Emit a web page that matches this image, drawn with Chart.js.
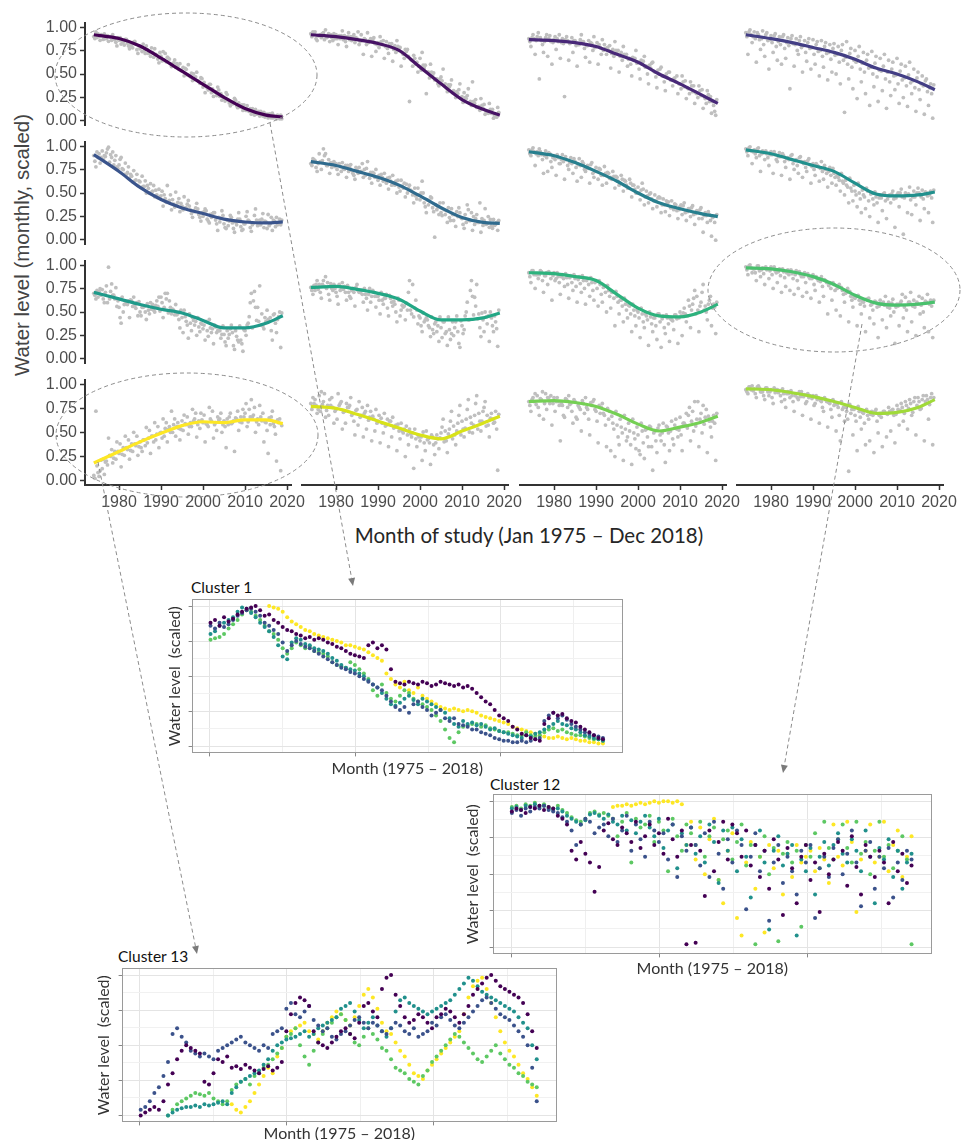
<!DOCTYPE html>
<html>
<head>
<meta charset="utf-8">
<title>Water level clusters</title>
<script src="https://cdn.jsdelivr.net/npm/chart.js@4.4.1/dist/chart.umd.min.js"></script>
<style>
  body { margin: 0; background: #fff; }
  #page { position: relative; width: 961px; height: 1140px; overflow: hidden; background: #fff; }
  #page canvas { position: absolute; }
  .txt { position: absolute; white-space: nowrap; }
  #notes { z-index: 10; pointer-events: none; }
</style>
</head>
<body>
<div id="page">
  <div class="txt" style="left:22px;top:245px;transform:translate(-50%,-50%) rotate(-90deg);font:20.5px 'Liberation Sans',Arial,sans-serif;color:#444">Water level (monthly, scaled)</div>
  <div class="txt" style="left:529px;top:535px;transform:translate(-50%,-50%);font:20.5px Lato,sans-serif;color:#262626">Month of study (Jan 1975 – Dec 2018)</div>
  <div class="txt" style="left:191px;top:587px;transform:translateY(-50%);font:15.5px Lato,sans-serif;color:#111">Cluster 1</div>
  <div class="txt" style="left:490px;top:784px;transform:translateY(-50%);font:15.5px Lato,sans-serif;color:#111">Cluster 12</div>
  <div class="txt" style="left:118px;top:956px;transform:translateY(-50%);font:15.5px Lato,sans-serif;color:#111">Cluster 13</div>
  <canvas id="notes" width="961" height="1140" style="left:0;top:0"></canvas>
</div>
<script>
// ---- smoothed trend per cluster, sampled at these years ----
const lineYears = [1974, 1980, 1985, 1990, 1995, 2000, 2005, 2010, 2015, 2019];
// monthly readings (scaled) thinned to four per year, starting 1974
const firstYear = 1974;

const cl1_line = [.92,.88,.80,.67,.53,.39,.25,.13,.06,.04];
const cl1_a = [.90,.93,.91,.88,.90,.87,.86,.84,.83,.80,.82,.77,.75,.72,.73,.70,.69,.72,.66,.62,.58,.53,.55,.47,.44,.42,.36,.35,.30,.31,.26,.24,.22,.18,.16,.15,.12,.10,.09,.08,.08,.06,.07,.05,.04];
const cl1_b = [.88,.90,.87,.91,.86,.84,.89,.81,.80,.78,.76,.79,.72,.74,.68,.66,.64,.63,.61,.65,.55,.57,.49,.51,.47,.40,.41,.33,.34,.27,.29,.21,.19,.20,.14,.17,.11,.13,.06,.10,.05,.07,.03,.04,.02];
const cl1_c = [.95,.86,.93,.85,.92,.80,.82,.87,.77,.84,.72,.74,.80,.69,.77,.62,.74,.68,.58,.57,.61,.48,.60,.43,.52,.46,.30,.39,.26,.36,.22,.30,.16,.24,.19,.11,.16,.07,.12,.05,.09,.03,.08,.02,.06];
const cl1_d = [.89,.92,.88,.90,.87,.89,.85,.87,.83,.85,.80,.82,.76,.78,.71,.73,.65,.67,.59,.61,.54,.56,.48,.50,.43,.45,.37,.39,.31,.33,.26,.28,.20,.22,.15,.17,.11,.13,.07,.10,.04,.07,.03,.06,.02];

const cl2_line = [.90,.88,.85,.81,.74,.57,.40,.24,.14,.08];
const cl2_a = [.91,.93,.89,.92,.88,.87,.90,.86,.89,.92,.88,.86,.90,.85,.84,.87,.82,.80,.83,.78,.79,.74,.70,.75,.64,.60,.66,.56,.52,.48,.45,.47,.40,.37,.33,.30,.27,.25,.22,.20,.17,.15,.12,.10,.08];
const cl2_b = [.88,.86,.90,.85,.91,.84,.86,.89,.83,.85,.90,.93,.84,.80,.86,.81,.77,.84,.76,.81,.72,.77,.66,.68,.58,.62,.54,.59,.46,.51,.40,.43,.36,.39,.30,.34,.21,.28,.18,.24,.13,.19,.10,.14,.06];
const cl2_c = [.93,.84,.87,.95,.83,.91,.80,.94,.78,.88,.82,.80,.70,.92,.68,.73,.88,.66,.71,.63,.84,.58,.75,.22,.69,.52,.72,.30,.60,.44,.38,.55,.32,.44,.26,.40,.31,.35,.42,.16,.25,.09,.20,.05,.16];
const cl2_d = [.92,.89,.91,.87,.90,.86,.89,.85,.88,.84,.87,.83,.86,.82,.85,.80,.83,.78,.81,.75,.78,.72,.73,.65,.66,.58,.59,.52,.52,.45,.45,.38,.39,.31,.32,.25,.26,.20,.22,.16,.18,.12,.14,.08,.11];

const cl3_line = [.85,.84,.82,.78,.70,.62,.50,.40,.29,.20];
const cl3_a = [.86,.90,.88,.84,.87,.89,.85,.83,.86,.88,.82,.84,.80,.83,.79,.81,.78,.77,.80,.74,.75,.71,.72,.68,.66,.64,.62,.60,.58,.56,.52,.50,.48,.46,.44,.42,.40,.37,.35,.32,.30,.28,.25,.22,.18];
const cl3_b = [.83,.86,.92,.80,.90,.83,.88,.90,.81,.84,.87,.79,.85,.76,.84,.74,.82,.70,.76,.79,.68,.74,.64,.70,.60,.66,.55,.63,.50,.61,.47,.55,.42,.52,.38,.48,.35,.43,.30,.38,.26,.34,.20,.27,.12];
const cl3_c = [.78,.70,.45,.72,.68,.60,.75,.66,.27,.64,.72,.58,.90,.67,.62,.88,.60,.85,.70,.56,.83,.52,.78,.58,.48,.74,.45,.68,.40,.62,.36,.57,.33,.52,.45,.30,.48,.25,.42,.20,.38,.15,.33,.10,.08];
const cl3_d = [.87,.84,.87,.83,.86,.82,.86,.82,.85,.81,.84,.80,.83,.79,.82,.77,.80,.74,.77,.71,.74,.68,.70,.65,.67,.61,.64,.57,.59,.53,.54,.48,.50,.44,.46,.40,.42,.36,.38,.31,.33,.27,.29,.22,.24];

const cl4_line = [.90,.86,.82,.77,.72,.65,.56,.50,.42,.34];
const cl4_a = [.92,.95,.93,.90,.94,.92,.89,.91,.88,.90,.87,.89,.86,.88,.84,.86,.85,.83,.84,.82,.80,.81,.78,.80,.83,.76,.74,.78,.72,.70,.73,.68,.66,.70,.64,.62,.66,.60,.58,.62,.55,.52,.48,.45,.40];
const cl4_b = [.88,.90,.86,.85,.80,.84,.82,.78,.80,.76,.79,.81,.74,.77,.72,.76,.70,.73,.68,.71,.65,.69,.62,.64,.60,.57,.62,.55,.52,.56,.50,.47,.53,.45,.42,.48,.40,.44,.38,.41,.36,.34,.38,.32,.30];
const cl4_c = [.70,.82,.62,.75,.68,.55,.72,.64,.60,.66,.35,.58,.70,.52,.63,.55,.60,.48,.57,.44,.52,.50,.40,.11,.45,.35,.25,.42,.30,.18,.37,.22,.33,.15,.28,.34,.20,.26,.17,.30,.12,.24,.09,.18,.05];
const cl4_d = [.93,.88,.92,.86,.90,.85,.89,.83,.88,.82,.86,.80,.84,.79,.82,.77,.80,.74,.78,.72,.76,.70,.74,.67,.71,.64,.68,.61,.64,.57,.61,.54,.58,.52,.55,.49,.53,.46,.49,.43,.46,.40,.43,.36,.39];

const cl5_line = [.91,.73,.56,.43,.34,.28,.22,.19,.18,.19];
const cl5_a = [.90,.88,.95,.93,.91,.85,.80,.75,.72,.68,.64,.62,.57,.55,.52,.48,.47,.44,.42,.38,.40,.36,.34,.32,.30,.27,.25,.22,.24,.21,.19,.17,.15,.18,.16,.14,.17,.20,.18,.15,.22,.19,.17,.20,.18];
const cl5_b = [.84,.92,.86,.97,.88,.90,.86,.70,.78,.62,.70,.56,.63,.50,.58,.45,.52,.40,.48,.35,.44,.32,.38,.28,.34,.24,.30,.20,.28,.17,.23,.13,.20,.12,.22,.10,.25,.13,.26,.16,.28,.12,.24,.14,.22];
const cl5_c = [.78,.82,.90,.99,.94,.78,.88,.82,.66,.74,.58,.68,.50,.60,.46,.54,.36,.58,.32,.51,.30,.46,.42,.24,.39,.20,.33,.18,.29,.10,.31,.12,.26,.08,.29,.11,.30,.09,.33,.21,.13,.27,.10,.24,.16];
const cl5_d = [.94,.88,.89,.83,.80,.76,.76,.70,.70,.63,.63,.57,.58,.51,.53,.46,.48,.41,.43,.37,.39,.34,.36,.31,.33,.29,.31,.27,.29,.24,.26,.21,.24,.19,.22,.17,.21,.16,.21,.16,.20,.15,.21,.16,.21];

const cl6_line = [.82,.78,.72,.66,.58,.47,.35,.25,.20,.19];
const cl6_a = [.80,.83,.90,.95,.78,.76,.80,.77,.74,.72,.70,.74,.72,.68,.65,.70,.63,.66,.60,.62,.58,.56,.55,.50,.52,.47,.43,.40,.38,.35,.33,.30,.28,.25,.22,.26,.24,.20,.22,.18,.20,.17,.19,.16,.18];
const cl6_b = [.78,.76,.82,.88,.84,.80,.74,.72,.78,.76,.68,.70,.80,.75,.71,.66,.68,.62,.65,.58,.62,.52,.60,.55,.48,.44,.50,.36,.42,.31,.36,.27,.32,.22,.28,.35,.18,.38,.30,.24,.40,.22,.26,.14,.20];
const cl6_c = [.85,.72,.74,.90,.70,.82,.69,.81,.66,.79,.64,.76,.66,.82,.60,.74,.58,.70,.54,.68,.50,.63,.46,.58,.40,.55,.62,.30,.46,.05,.28,.40,.20,.34,.16,.30,.14,.33,.12,.28,.10,.34,.15,.23,.12];
const cl6_d = [.84,.80,.83,.78,.81,.77,.80,.75,.78,.73,.76,.71,.74,.69,.71,.66,.69,.63,.66,.60,.63,.57,.59,.53,.55,.48,.50,.43,.45,.38,.40,.33,.35,.28,.31,.25,.28,.22,.26,.20,.24,.18,.23,.17,.22];

const cl7_line = [.92,.88,.81,.72,.62,.50,.40,.34,.29,.26];
const cl7_a = [.94,.96,.92,.89,.93,.90,.88,.86,.89,.84,.86,.82,.85,.80,.78,.81,.76,.74,.77,.70,.72,.66,.68,.62,.64,.58,.56,.60,.52,.50,.48,.46,.44,.40,.42,.38,.36,.40,.34,.37,.32,.35,.30,.28,.26];
const cl7_b = [.90,.92,.88,.84,.86,.82,.84,.80,.82,.78,.80,.76,.78,.74,.75,.70,.72,.68,.70,.65,.67,.62,.64,.58,.60,.54,.50,.54,.47,.44,.42,.45,.38,.41,.35,.32,.38,.30,.34,.28,.31,.24,.27,.22,.20];
const cl7_c = [.88,.78,.95,.70,.72,.76,.68,.80,.64,.74,.70,.62,.66,.72,.60,.66,.64,.58,.60,.66,.55,.58,.52,.55,.46,.50,.43,.38,.40,.34,.36,.30,.31,.27,.33,.24,.28,.22,.26,.18,.24,.10,.20,.06,.02];
const cl7_d = [.94,.90,.92,.88,.91,.86,.89,.84,.87,.81,.85,.79,.82,.75,.79,.72,.75,.68,.71,.64,.67,.60,.63,.55,.58,.50,.53,.46,.49,.42,.45,.38,.42,.35,.39,.33,.37,.31,.35,.29,.33,.27,.31,.25,.28];

const cl8_line = [.94,.90,.84,.78,.72,.60,.49,.47,.48,.51];
const cl8_a = [.95,.97,.94,.96,.93,.90,.92,.89,.91,.88,.86,.89,.84,.87,.82,.85,.80,.78,.82,.74,.76,.70,.66,.62,.58,.55,.52,.50,.48,.52,.50,.46,.48,.50,.47,.52,.48,.54,.50,.56,.52,.55,.53,.50,.52];
const cl8_b = [.92,.93,.90,.88,.91,.86,.89,.84,.87,.82,.84,.80,.78,.82,.76,.79,.74,.77,.72,.70,.68,.66,.63,.60,.56,.52,.48,.44,.46,.42,.44,.40,.45,.42,.48,.44,.50,.46,.48,.43,.46,.50,.44,.47,.45];
const cl8_c = [.88,.80,.86,.72,.84,.78,.70,.82,.68,.76,.64,.74,.70,.66,.72,.60,.68,.62,.64,.56,.60,.58,.52,.48,.40,.42,.36,.30,.34,.26,.38,.20,.32,.24,.40,.15,.36,.08,.30,.28,.38,.22,.34,.30,.20];
const cl8_d = [.96,.92,.95,.90,.93,.89,.92,.87,.90,.85,.88,.83,.86,.80,.83,.77,.80,.75,.78,.72,.75,.68,.70,.63,.65,.58,.60,.53,.55,.49,.51,.45,.49,.44,.49,.45,.50,.45,.49,.46,.50,.46,.51,.48,.53];

const cl9_line = [.71,.64,.58,.53,.49,.41,.33,.33,.38,.46];
const cl9_a = [.70,.66,.74,.78,.72,.64,.55,.50,.58,.62,.54,.50,.56,.52,.58,.62,.66,.70,.62,.52,.48,.44,.40,.38,.36,.34,.32,.30,.28,.34,.30,.26,.22,.28,.24,.20,.30,.45,.62,.55,.48,.40,.44,.48,.45];
const cl9_b = [.68,.72,.64,.60,.80,.76,.44,.58,.62,.56,.60,.46,.50,.48,.52,.56,.60,.64,.55,.47,.42,.28,.36,.30,.40,.29,.36,.24,.32,.28,.22,.18,.26,.14,.20,.16,.25,.60,.72,.40,.35,.52,.30,.38,.50];
const cl9_c = [.64,.75,.60,.98,.68,.56,.38,.62,.44,.66,.46,.55,.42,.60,.50,.66,.44,.70,.48,.58,.33,.52,.22,.44,.25,.38,.20,.42,.16,.30,.26,.14,.32,.10,.18,.08,.36,.70,.55,.78,.32,.42,.20,.28,.12];
const cl9_d = [.73,.68,.71,.64,.68,.62,.66,.59,.63,.57,.61,.55,.59,.53,.57,.51,.55,.49,.53,.47,.52,.45,.48,.41,.44,.37,.40,.33,.36,.30,.35,.30,.36,.30,.35,.31,.38,.33,.41,.36,.44,.40,.47,.42,.49];

const cl10_line = [.75,.76,.73,.69,.63,.51,.42,.42,.44,.49];
const cl10_a = [.75,.72,.78,.82,.80,.74,.70,.72,.76,.70,.74,.78,.72,.68,.74,.70,.66,.62,.68,.64,.58,.62,.55,.52,.48,.62,.44,.40,.36,.32,.30,.34,.28,.32,.26,.30,.36,.50,.72,.65,.48,.42,.38,.44,.40];
const cl10_b = [.72,.78,.70,.76,.68,.72,.66,.75,.70,.66,.70,.72,.68,.64,.60,.66,.62,.58,.54,.60,.50,.46,.56,.70,.78,.52,.36,.42,.34,.28,.36,.24,.30,.22,.34,.18,.28,.60,.82,.56,.34,.30,.46,.36,.33];
const cl10_c = [.68,.82,.64,.86,.62,.78,.58,.80,.62,.64,.56,.70,.60,.52,.66,.55,.48,.64,.46,.56,.40,.52,.42,.82,.45,.38,.30,.44,.25,.38,.20,.40,.16,.28,.40,.14,.32,.42,.66,.78,.25,.50,.20,.30,.15];
const cl10_d = [.77,.73,.78,.74,.79,.74,.78,.73,.77,.72,.75,.70,.74,.68,.72,.66,.70,.64,.67,.61,.64,.57,.59,.52,.54,.46,.49,.42,.45,.40,.45,.40,.45,.40,.46,.41,.46,.42,.47,.43,.49,.45,.50,.46,.52];

const cl11_line = [.90,.89,.86,.82,.68,.54,.46,.45,.50,.58];
const cl11_a = [.90,.92,.88,.91,.87,.89,.90,.86,.88,.85,.87,.84,.86,.82,.84,.80,.82,.78,.76,.72,.70,.66,.62,.58,.56,.52,.50,.48,.46,.45,.44,.48,.46,.44,.42,.47,.50,.54,.62,.58,.66,.60,.56,.62,.58];
const cl11_b = [.86,.88,.84,.82,.90,.84,.82,.80,.84,.78,.80,.76,.79,.74,.78,.72,.74,.68,.70,.66,.64,.60,.56,.52,.48,.46,.44,.40,.42,.38,.36,.40,.34,.38,.41,.43,.46,.48,.56,.64,.52,.70,.50,.66,.55];
const cl11_c = [.80,.74,.88,.70,.78,.62,.84,.68,.76,.64,.72,.60,.70,.58,.66,.62,.56,.60,.50,.54,.36,.48,.40,.44,.30,.36,.24,.34,.16,.30,.22,.14,.28,.20,.32,.18,.26,.40,.34,.72,.30,.78,.42,.36,.28];
const cl11_d = [.92,.88,.92,.87,.91,.87,.90,.86,.89,.85,.88,.83,.87,.82,.85,.80,.82,.75,.77,.70,.71,.62,.64,.57,.58,.52,.54,.48,.50,.44,.48,.43,.47,.43,.47,.44,.49,.46,.52,.48,.56,.52,.58,.54,.60];

const cl12_line = [.95,.94,.91,.86,.78,.67,.59,.57,.58,.60];
const cl12_a = [.96,.98,.94,.97,.95,.93,.96,.92,.94,.91,.93,.89,.92,.88,.90,.86,.88,.84,.86,.82,.80,.78,.76,.72,.70,.66,.64,.62,.60,.62,.58,.60,.62,.57,.60,.63,.58,.61,.65,.60,.62,.58,.64,.60,.62];
const cl12_b = [.93,.95,.90,.92,.89,.94,.88,.90,.87,.85,.88,.84,.82,.86,.80,.84,.78,.82,.76,.80,.74,.72,.78,.68,.74,.62,.66,.58,.56,.64,.52,.55,.58,.66,.54,.50,.56,.68,.52,.70,.55,.66,.50,.68,.56];
const cl12_c = [.88,.90,.82,.86,.78,.84,.74,.80,.70,.76,.72,.68,.74,.66,.70,.64,.72,.60,.66,.48,.62,.52,.46,.60,.40,.55,.36,.48,.30,.44,.38,.24,.42,.34,.46,.18,.36,.44,.30,.40,.26,.48,.34,.30,.24];
const cl12_d = [.97,.94,.97,.93,.96,.92,.96,.91,.94,.90,.93,.88,.91,.86,.89,.84,.86,.81,.83,.77,.80,.74,.75,.69,.71,.65,.67,.61,.63,.57,.61,.56,.60,.55,.59,.55,.59,.55,.60,.56,.60,.57,.61,.58,.62];

const cl13_line = [.18,.30,.40,.49,.57,.61,.60,.63,.63,.59];
const cl13_a = [.05,.08,.12,.20,.25,.30,.28,.34,.32,.38,.36,.40,.42,.44,.46,.48,.50,.54,.56,.58,.60,.62,.58,.60,.64,.62,.60,.58,.62,.60,.64,.62,.58,.60,.64,.66,.70,.74,.68,.64,.62,.60,.58,.56,.60];
const cl13_b = [.02,.04,.22,.16,.32,.22,.38,.26,.42,.30,.46,.34,.36,.52,.40,.56,.44,.60,.50,.64,.54,.52,.66,.56,.70,.54,.68,.56,.72,.52,.70,.56,.66,.62,.72,.60,.80,.66,.76,.58,.70,.52,.66,.48,.64];
const cl13_c = [.72,.10,.06,.44,.18,.40,.14,.46,.22,.50,.26,.30,.55,.28,.60,.34,.64,.40,.72,.46,.42,.68,.48,.74,.45,.70,.40,.76,.44,.66,.50,.34,.70,.30,.52,.74,.56,.84,.50,.78,.40,.28,.72,.20,.10];
const cl13_d = [.15,.21,.19,.26,.23,.30,.27,.34,.31,.38,.35,.42,.39,.46,.42,.49,.46,.53,.50,.56,.53,.59,.56,.62,.58,.63,.59,.64,.58,.63,.58,.64,.59,.65,.61,.66,.61,.66,.61,.66,.61,.65,.59,.63,.57];

const cl14_line = [.75,.73,.67,.60,.53,.46,.42,.50,.58,.65];
const cl14_a = [.78,.82,.86,.80,.76,.84,.72,.78,.70,.74,.68,.72,.66,.70,.64,.62,.60,.58,.56,.60,.54,.50,.48,.46,.44,.42,.40,.38,.42,.44,.46,.48,.50,.52,.55,.58,.60,.62,.64,.66,.68,.70,.66,.68,.70];
const cl14_b = [.72,.76,.70,.88,.66,.74,.62,.80,.58,.76,.60,.56,.74,.52,.70,.50,.66,.48,.62,.44,.56,.42,.52,.36,.48,.34,.44,.30,.38,.36,.42,.54,.40,.60,.46,.66,.52,.72,.58,.78,.60,.74,.56,.62,.52];
const cl14_c = [.84,.68,.90,.64,.82,.58,.88,.52,.78,.84,.46,.80,.44,.76,.40,.72,.38,.68,.34,.64,.30,.58,.24,.52,.12,.46,.20,.50,.16,.26,.32,.62,.28,.70,.36,.76,.44,.82,.48,.86,.50,.80,.44,.58,.10];
const cl14_d = [.78,.72,.77,.71,.76,.70,.76,.69,.74,.66,.71,.64,.68,.61,.65,.58,.63,.55,.60,.53,.57,.50,.55,.47,.52,.44,.49,.41,.46,.38,.43,.39,.47,.42,.50,.46,.53,.49,.56,.52,.60,.55,.63,.59,.67];

const cl15_line = [.80,.81,.79,.75,.67,.57,.50,.54,.59,.65];
const cl15_a = [.80,.84,.86,.82,.88,.78,.84,.80,.76,.82,.78,.80,.74,.78,.72,.76,.70,.68,.66,.62,.58,.56,.54,.52,.50,.48,.46,.50,.52,.54,.50,.56,.58,.54,.60,.62,.64,.58,.66,.70,.62,.68,.64,.60,.66];
const cl15_b = [.76,.80,.74,.90,.72,.86,.70,.76,.66,.74,.70,.64,.72,.68,.62,.80,.60,.74,.56,.70,.52,.44,.48,.40,.36,.42,.30,.38,.44,.34,.40,.46,.36,.48,.42,.52,.46,.56,.74,.50,.80,.48,.72,.54,.58];
const cl15_c = [.70,.88,.66,.62,.84,.56,.80,.40,.64,.86,.58,.62,.50,.84,.46,.82,.38,.78,.34,.30,.24,.36,.20,.44,.16,.32,.26,.22,.34,.10,.28,.40,.18,.30,.36,.44,.30,.68,.40,.80,.34,.76,.28,.44,.20];
const cl15_d = [.82,.77,.83,.78,.84,.78,.84,.78,.83,.77,.82,.76,.81,.74,.79,.72,.76,.68,.73,.65,.70,.62,.66,.58,.62,.54,.58,.51,.55,.48,.53,.48,.55,.50,.56,.51,.58,.53,.60,.55,.62,.57,.65,.60,.68];

const cl16_line = [.93,.92,.89,.85,.80,.74,.68,.69,.74,.82];
const cl16_a = [.92,.95,.93,.96,.90,.94,.92,.89,.91,.88,.90,.86,.88,.85,.87,.84,.86,.82,.80,.82,.78,.76,.74,.72,.70,.68,.66,.70,.68,.66,.70,.72,.68,.70,.74,.72,.76,.78,.80,.82,.80,.84,.82,.86,.84];
const cl16_b = [.90,.92,.88,.94,.86,.90,.84,.92,.86,.82,.88,.80,.84,.90,.78,.86,.76,.84,.74,.80,.72,.78,.66,.74,.62,.72,.60,.64,.58,.62,.66,.60,.64,.68,.70,.66,.72,.74,.76,.78,.84,.80,.86,.82,.88];
const cl16_c = [.88,.96,.84,.90,.82,.86,.78,.92,.80,.74,.84,.70,.82,.66,.80,.62,.78,.58,.70,.54,.64,.50,.40,.60,.09,.46,.30,.52,.36,.40,.28,.48,.34,.44,.50,.38,.56,.60,.52,.66,.46,.72,.40,.62,.36];
const cl16_d = [.95,.91,.95,.90,.94,.90,.94,.89,.93,.88,.91,.86,.90,.85,.88,.83,.86,.81,.84,.79,.82,.77,.80,.74,.77,.72,.75,.69,.72,.67,.70,.66,.70,.67,.71,.67,.71,.68,.73,.69,.76,.73,.80,.77,.84];

const yearTicks = [1980, 1990, 2000, 2010, 2020];
const levelTicks = [0, 0.25, 0.5, 0.75, 1];

// ---- wells of three selected clusters, one reading every ~6 months ----
const monthStep = 6.2;
const N = null;

const ins1_purple = [.88,.90,.86,.92,.89,.91,.94,.96,.98,.99,1.0,.97,.93,.94,.90,.88,.85,.83,.82,.80,.79,.77,.78,.76,.77,.76,.74,.73,.71,.70,.68,.66,.65,.64,.63,.72,.74,.70,.72,.69,.55,.46,.45,.44,.46,.45,.44,.46,.45,.43,.44,.46,.45,.44,.43,.44,.42,.43,.41,.38,.35,.32,.30,.26,.22,.20,.18,.14,.12,.09,.08,.06,.05,.04,.16,.20,.24,.22,.23,.20,.18,.17,.14,.12,.10,.08,.06,.05];
const ins1_blue = [.86,.84,.88,.85,.87,.90,.93,.95,.97,.98,.96,.93,.88,.86,.83,.80,.74,.68,.72,.75,.73,.71,.70,.68,.66,.64,.62,.60,.58,.56,.55,.53,.52,.50,.48,.46,.44,.42,.40,.36,.32,.28,.26,.28,.24,.30,.32,.28,.26,.22,.24,.26,.20,.18,.20,.16,.15,.14,.12,.12,.10,.09,.08,.06,.05,.04,.04,.03,.03,.04,.03,.04,.05,.06,.18,.22,.24,.20,.22,.19,.16,.14,.12,.10,.09,.08,.07,.06];
const ins1_teal = [.80,.82,.86,.88,.90,.92,.96,.99,.98,.95,.92,.88,.85,.82,.78,.72,.64,.62,.74,.77,.76,.73,.72,.70,.69,.68,.66,.63,.61,.58,.56,.55,.54,.52,.50,.47,.44,.42,.38,.34,.30,.29,.31,.34,.36,.33,.30,.34,.32,.30,.28,.26,.24,.20,.16,.14,.18,.16,.17,.15,.16,.14,.12,.13,.11,.10,.09,.08,.07,.06,.08,.07,.09,.10,.12,.14,.16,.18,.16,.15,.13,.12,.10,.08,.07,.06,.05,.04];
const ins1_green = [.76,.77,.78,.80,.84,.87,.90,.94,.97,.96,.93,.90,.86,.82,.80,.76,.70,.66,.70,.74,.72,.70,.71,.68,.67,.66,.64,.60,.58,.57,.56,.60,.58,.55,.52,.48,.40,.36,.44,.38,.34,.32,.36,.40,.38,.34,.32,.30,.28,.26,.22,.18,.12,.06,.03,.10,.14,.15,.16,.16,.14,.15,.13,.12,.11,.10,.10,.09,.08,.08,.10,.08,.07,.08,.10,.12,.13,.11,.12,.10,.09,.08,.08,.07,.06,.05,.05,.04];
const ins1_yellow = [N,N,N,N,N,N,N,N,N,N,N,N,N,1.0,.99,.98,.96,.92,.89,.87,.85,.83,.82,.80,.79,.78,.77,.76,.75,.74,.72,.72,.71,.70,.69,.67,.65,.63,.61,.52,.48,.44,.42,.46,.40,.38,.42,.36,.34,.32,.30,.28,.27,.26,.27,.26,.25,.26,.25,.24,.22,.21,.20,.19,.18,.17,.16,.14,.13,.12,.11,.10,.09,.08,.07,.06,.06,.07,.06,.05,.06,.05,.04,.04,.03,.03,.02,.02];

const ins12_purple = [.93,.95,.94,.92,.96,.95,.97,.94,.96,.95,.90,.88,.84,.66,.60,.72,.64,.58,.38,.55,.80,.85,.74,.70,.82,.78,.72,.86,.68,.76,.84,.70,.78,.64,.88,.74,.62,.80,.02,.70,.03,.66,.35,.80,.52,.72,.86,.60,.84,.78,.62,.80,.56,.70,.48,.66,.40,.74,.60,.22,.68,.54,.30,.62,.70,.46,.58,.24,.64,.50,.60,.72,.66,.42,.76,.55,.36,.70,.62,.48,.66,.58,.30,.72,.52,.64,.44,.56];
const ins12_blue = [.92,.94,.90,.95,.93,.96,.95,.97,.94,.93,.92,.89,.86,.80,.70,.84,.88,.86,.78,.82,.84,.76,.88,.72,.80,.90,.66,.84,.74,.62,.86,.80,.72,.78,.60,.84,.48,.76,.66,.82,.70,.56,.78,.48,.86,.64,.40,.74,.58,.80,.70,.26,.62,.78,.52,.66,.18,.58,.70,.44,.62,.52,.36,.66,.58,.70,.20,.54,.62,.48,.68,.74,.50,.64,.80,.58,.28,.66,.72,.40,.62,.54,.68,.34,.58,.46,.66,.60];
const ins12_teal = [.95,.96,.94,.97,.96,.98,.96,.97,.95,.94,.95,.93,.90,.88,.86,.84,.87,.91,.92,.90,.88,.91,.86,.84,.90,.80,.87,.78,.86,.90,.82,.76,.88,.68,.80,.84,.54,.78,.70,.82,.64,.76,.58,.84,.72,.44,.80,.66,.82,.52,.74,.62,.34,.70,.80,.58,.12,.66,.76,.56,.64,.70,.08,.60,.52,.68,.36,.62,.72,.56,.70,.78,.64,.58,.74,.66,.52,.80,.62,.30,.68,.60,.74,.48,.66,.40,.58,.64];
const ins12_green = [.96,.97,.95,.98,.97,.99,.97,.98,.96,.95,.97,.94,.92,.89,.87,.86,.88,.92,.93,.91,.92,.90,.88,.76,.86,.92,.58,.88,.82,.84,.90,.72,.86,.80,.52,.88,.76,.66,.84,.78,.70,.86,.62,.76,.82,.46,.74,.80,.60,.72,.84,.56,.70,.02,.62,.76,.50,.68,.04,.64,.72,.58,.66,.14,.70,.62,.78,.54,.86,.68,.60,.74,.84,.68,.58,.86,.64,.72,.50,.66,.86,.62,.70,.54,.66,.76,.60,.02];
const ins12_yellow = [N,N,N,N,N,N,N,N,N,N,N,N,N,N,N,N,N,N,N,N,N,N,.96,.97,.97,.98,.97,.98,.99,.98,.99,1.0,.99,1.0,1.0,.99,1.0,.98,.70,.86,.60,.82,.50,.74,.88,.46,.30,.66,.78,.20,.08,.58,.72,.40,.62,.10,.70,.54,.66,.36,.64,.48,.70,.58,.62,.66,.52,.68,.60,.44,.84,.62,.56,.86,.72,.24,.60,.66,.84,.58,.62,.86,.52,.70,.80,.48,.62,.76];

const ins13_purple = [.00,.02,.04,.06,.04,.10,.22,.30,.40,.46,.50,.48,.46,.44,.24,.22,.30,.40,.38,.42,.34,.35,.33,.36,.34,.32,.30,.33,.35,.32,.34,.38,.60,.72,.80,.84,.82,.78,.60,.52,.50,.48,.52,.56,.60,.62,.58,.55,.66,.78,.80,.74,.70,.90,.98,1.0,.86,.78,.70,.66,.68,.72,.70,.66,.62,.70,.72,.76,.74,.70,.66,.72,.78,.86,.90,.94,.98,1.0,.96,.92,.90,.88,.86,.84,.80,.72,.60,.48];
const ins13_blue = [.04,.06,.10,.16,.20,.28,.38,.58,.62,.56,.52,.46,.44,.42,.44,.42,.40,.46,.48,.50,.52,.54,.56,.52,.50,.48,.46,.50,.48,.58,.60,.62,.76,.80,.72,.70,.74,.78,.68,.64,.60,.62,.56,.54,.58,.60,.64,.68,.70,.66,.62,.66,.64,.60,.58,.62,.66,.64,.60,.58,.62,.56,.58,.60,.66,.64,.70,.72,.68,.64,.62,.66,.70,.74,.78,.82,.84,.80,.76,.72,.70,.68,.64,.60,.56,.50,.34,.10];
const ins13_teal = [N,N,N,N,N,N,.00,.02,.04,.05,.06,.06,.07,.06,.08,.07,.08,.09,.10,.08,.16,.20,.24,.26,.28,.30,.32,.36,.40,.46,.50,.52,.54,.55,.56,.58,.60,.56,.58,.62,.64,.66,.68,.70,.76,.78,.80,.74,.68,.62,.66,.70,.64,.60,.56,.62,.74,.82,.84,.80,.78,.76,.74,.72,.74,.76,.78,.80,.82,.86,.90,.94,.98,.96,.92,.88,.86,.84,.82,.80,.78,.76,.74,.70,.66,.62,.50,.40];
const ins13_green = [N,N,N,N,N,N,.00,.04,.08,.10,.12,.14,.16,.15,.14,.16,.12,.10,.08,.10,.18,.22,.24,.26,.22,.28,.30,.34,.36,.40,.44,.48,.56,.58,.62,.50,.42,.36,.46,.52,.58,.62,.66,.70,.72,.68,.58,.52,.50,.56,.62,.58,.54,.48,.46,.40,.34,.32,.30,.26,.24,.22,.28,.32,.38,.42,.46,.50,.54,.58,.56,.52,.48,.44,.40,.38,.42,.46,.50,.44,.40,.36,.34,.30,.28,.24,.22,.20];
const ins13_yellow = [N,N,N,N,N,N,N,N,N,N,N,N,N,N,N,N,N,N,N,N,.08,.04,.02,.06,.10,.16,.22,.28,.34,.30,.42,.48,.56,.60,.62,.64,.66,.60,.58,.54,.60,.66,.70,.74,.72,.68,.64,.70,.78,.86,.90,.84,.76,.66,.60,.58,.52,.46,.42,.36,.30,.28,.26,.32,.36,.40,.44,.48,.52,.56,.60,.72,.84,.92,.96,.98,.90,.80,.70,.60,.52,.46,.42,.36,.30,.26,.20,.14];

// ---- panel table built from the arrays above (row-major, cluster 1..16) ----
const clusters = [
  [cl1_line, cl1_a, cl1_b, cl1_c, cl1_d], [cl2_line, cl2_a, cl2_b, cl2_c, cl2_d],
  [cl3_line, cl3_a, cl3_b, cl3_c, cl3_d], [cl4_line, cl4_a, cl4_b, cl4_c, cl4_d],
  [cl5_line, cl5_a, cl5_b, cl5_c, cl5_d], [cl6_line, cl6_a, cl6_b, cl6_c, cl6_d],
  [cl7_line, cl7_a, cl7_b, cl7_c, cl7_d], [cl8_line, cl8_a, cl8_b, cl8_c, cl8_d],
  [cl9_line, cl9_a, cl9_b, cl9_c, cl9_d], [cl10_line, cl10_a, cl10_b, cl10_c, cl10_d],
  [cl11_line, cl11_a, cl11_b, cl11_c, cl11_d], [cl12_line, cl12_a, cl12_b, cl12_c, cl12_d],
  [cl13_line, cl13_a, cl13_b, cl13_c, cl13_d], [cl14_line, cl14_a, cl14_b, cl14_c, cl14_d],
  [cl15_line, cl15_a, cl15_b, cl15_c, cl15_d], [cl16_line, cl16_a, cl16_b, cl16_c, cl16_d]
];
const clusterColors = ['#440154', '#471365', '#482878', '#433e85', '#3a548c', '#2f6b8e', '#277f8e', '#21908d',
                       '#1f9a8a', '#22a785', '#2db27d', '#4ac16d', '#fde725', '#d8e219', '#75d054', '#a0da39'];
const wellColors = ['#440154', '#3b528b', '#21908c', '#5dc863', '#fde725'];

// panel geometry (plot areas)
const colLeft = [85, 302.3, 519.6, 736.9];
const rowTop = [20.1, 139.1, 258.1, 377.1];
const PANEL_W = 206, PANEL_H = 108.4;
const Y_AXIS_W = 50, X_AXIS_H = 30;

Chart.defaults.font.family = "'Liberation Sans', Arial, sans-serif";

const page = document.getElementById('page');
const notes = document.getElementById('notes');

function addCanvas(left, top, w, h) {
  const cv = document.createElement('canvas');
  w = Math.round(w); h = Math.round(h);
  cv.width = w; cv.height = h;
  cv.style.left = left + 'px'; cv.style.top = top + 'px';
  cv.style.width = w + 'px'; cv.style.height = h + 'px';
  page.insertBefore(cv, notes);
  return cv;
}

// only a shown axis gets a fixed size; hidden ones must take no room
function axisLine(show, ticks, fmt, fit) {
  const ax = {
    display: show,
    afterBuildTicks: s => { s.ticks = ticks.map(v => ({ value: v })); },
    border: { display: true, color: '#333', width: 2 },
    grid: { drawOnChartArea: false, drawTicks: true, tickLength: 5, tickColor: '#333', tickWidth: 1.5 },
    ticks: { color: '#4d4d4d', font: { size: 16 }, padding: 3, autoSkip: false, maxRotation: 0, callback: fmt }
  };
  if (show) ax.afterFit = fit;
  return ax;
}

clusters.forEach((cl, i) => {
  const row = Math.floor(i / 4), col = i % 4;
  const withY = col === 0, withX = row === 3;
  const pad = { top: 10, right: 20, bottom: 10, left: 4 };
  const yw = withY ? Y_AXIS_W : 0, xh = withX ? X_AXIS_H : 0;
  const cv = addCanvas(colLeft[col] - yw - pad.left, rowTop[row] - pad.top,
                       pad.left + yw + PANEL_W + pad.right, pad.top + PANEL_H + xh + pad.bottom);

  const cloud = [];
  const sets = cl.slice(1);
  sets.forEach((arr, k) => arr.forEach((v, j) => cloud.push({ x: firstYear + j + k / sets.length, y: v })));

  const xAxis = axisLine(withX, yearTicks, v => String(v), s => { s.height = X_AXIS_H; });
  xAxis.type = 'linear'; xAxis.min = 1971.9; xAxis.max = 2020.95;
  const yAxis = axisLine(withY, levelTicks, v => v.toFixed(2), s => { s.width = Y_AXIS_W; });
  yAxis.min = -0.05; yAxis.max = 1.05;

  new Chart(cv, {
    type: 'scatter',
    data: {
      datasets: [
        { data: cl[0].map((v, j) => ({ x: lineYears[j], y: v })), showLine: true, borderColor: clusterColors[i],
          borderWidth: 3.2, pointRadius: 0, cubicInterpolationMode: 'monotone', order: 0 },
        { data: cloud, backgroundColor: '#bfbfbf', pointRadius: 1.9, borderWidth: 0, order: 1 }
      ]
    },
    options: {
      responsive: false, maintainAspectRatio: false, animation: false, events: [],
      layout: { padding: pad },
      plugins: { legend: { display: false }, tooltip: { enabled: false } },
      scales: { x: xAxis, y: yAxis }
    }
  });
});

// ---- zoomed-in cluster charts ----
const framePlugin = {
  id: 'frame',
  afterDraw(chart) {
    const { ctx, chartArea: a } = chart;
    ctx.save();
    ctx.strokeStyle = '#9a9a9a'; ctx.lineWidth = 1;
    ctx.strokeRect(Math.round(a.left) + 0.5, Math.round(a.top) + 0.5, Math.round(a.width) - 1, Math.round(a.height) - 1);
    ctx.restore();
  }
};

const isMajor = (v, step) => Math.abs(v / step - Math.round(v / step)) < 1e-6;

function inset(box, wells, yTitleX, xTitleY) {
  const lh = 19.2;                         // title line height (16px font)
  const left = yTitleX - lh / 2, bottom = xTitleY + lh / 2;
  const yw = box.left - left, xh = bottom - box.bottom;
  const cv = addCanvas(left, box.top - 6, box.right - left + 6, bottom - box.top + 6);
  const titleFont = { family: 'Lato, sans-serif', size: 16 };

  new Chart(cv, {
    type: 'scatter',
    data: {
      datasets: wells.map((w, k) => ({
        data: w.map((v, j) => ({ x: 1 + j * monthStep, y: v })).filter(p => p.y !== null),
        backgroundColor: wellColors[k], pointRadius: 2, borderWidth: 0
      }))
    },
    options: {
      responsive: false, maintainAspectRatio: false, animation: false, events: [],
      layout: { padding: { top: 6, right: 6, left: 0, bottom: 0 } },
      plugins: { legend: { display: false }, tooltip: { enabled: false } },
      scales: {
        x: {
          type: 'linear', min: -25, max: 568,
          afterBuildTicks: s => { s.ticks = [0, 100, 200, 300, 400, 500].map(v => ({ value: v })); },
          afterFit: s => { s.height = xh; },
          border: { display: false },
          grid: { color: c => isMajor(c.tick ? c.tick.value : 0, 200) ? '#e4e4e4' : '#efefef', lineWidth: 1,
                  drawTicks: true, tickLength: 3, tickColor: c => isMajor(c.tick ? c.tick.value : 1, 200) ? '#888' : 'rgba(0,0,0,0)' },
          ticks: { display: false },
          title: { display: true, text: 'Month (1975 – 2018)', color: '#333', font: titleFont, padding: 0 }
        },
        y: {
          min: -0.05, max: 1.05,
          afterBuildTicks: s => { s.ticks = [0, .125, .25, .375, .5, .625, .75, .875, 1].map(v => ({ value: v })); },
          afterFit: s => { s.width = yw; },
          border: { display: false },
          grid: { color: c => isMajor(c.tick ? c.tick.value : 0, 0.25) ? '#e4e4e4' : '#f1f1f1', lineWidth: 1,
                  drawTicks: true, tickLength: 3, tickColor: c => isMajor(c.tick ? c.tick.value : 0.1, 0.25) ? '#888' : 'rgba(0,0,0,0)' },
          ticks: { display: false },
          title: { display: true, text: 'Water level  (scaled)', color: '#333', font: titleFont, padding: 0 }
        }
      }
    },
    plugins: [framePlugin]
  });
}

inset({ left: 192, top: 599, right: 623, bottom: 753 },
      [ins1_purple, ins1_blue, ins1_teal, ins1_green, ins1_yellow], 175, 768);
inset({ left: 493, top: 794, right: 932, bottom: 954 },
      [ins12_purple, ins12_blue, ins12_teal, ins12_green, ins12_yellow], 473, 968);
inset({ left: 122, top: 968, right: 557, bottom: 1122 },
      [ins13_purple, ins13_blue, ins13_teal, ins13_green, ins13_yellow], 104, 1133);

// ---- dashed call-outs linking grid panels to the zoomed charts ----
(function drawNotes() {
  const ctx = notes.getContext('2d');
  const rings = [[186, 75, 131, 62], [834, 290, 126, 62], [187, 435, 131, 62]];
  const leaders = [[270, 123, 353, 586], [862, 324, 783, 773], [98, 462, 197, 954]];
  ctx.strokeStyle = '#8c8c8c'; ctx.fillStyle = '#7a7a7a'; ctx.lineWidth = 1;
  ctx.setLineDash([4, 3]);
  rings.forEach(([cx, cy, rx, ry]) => {
    ctx.beginPath(); ctx.ellipse(cx, cy, rx, ry, 0, 0, Math.PI * 2); ctx.stroke();
  });
  leaders.forEach(([x0, y0, x1, y1]) => {
    const ang = Math.atan2(y1 - y0, x1 - x0), len = 8;
    const bx = x1 - len * Math.cos(ang), by = y1 - len * Math.sin(ang);
    ctx.setLineDash([4, 3]);
    ctx.beginPath(); ctx.moveTo(x0, y0); ctx.lineTo(bx, by); ctx.stroke();
    ctx.setLineDash([]);
    ctx.beginPath();
    ctx.moveTo(x1, y1);
    ctx.lineTo(bx + 3.5 * Math.sin(ang), by - 3.5 * Math.cos(ang));
    ctx.lineTo(bx - 3.5 * Math.sin(ang), by + 3.5 * Math.cos(ang));
    ctx.closePath(); ctx.fill();
  });
})();
</script>
</body>
</html>
